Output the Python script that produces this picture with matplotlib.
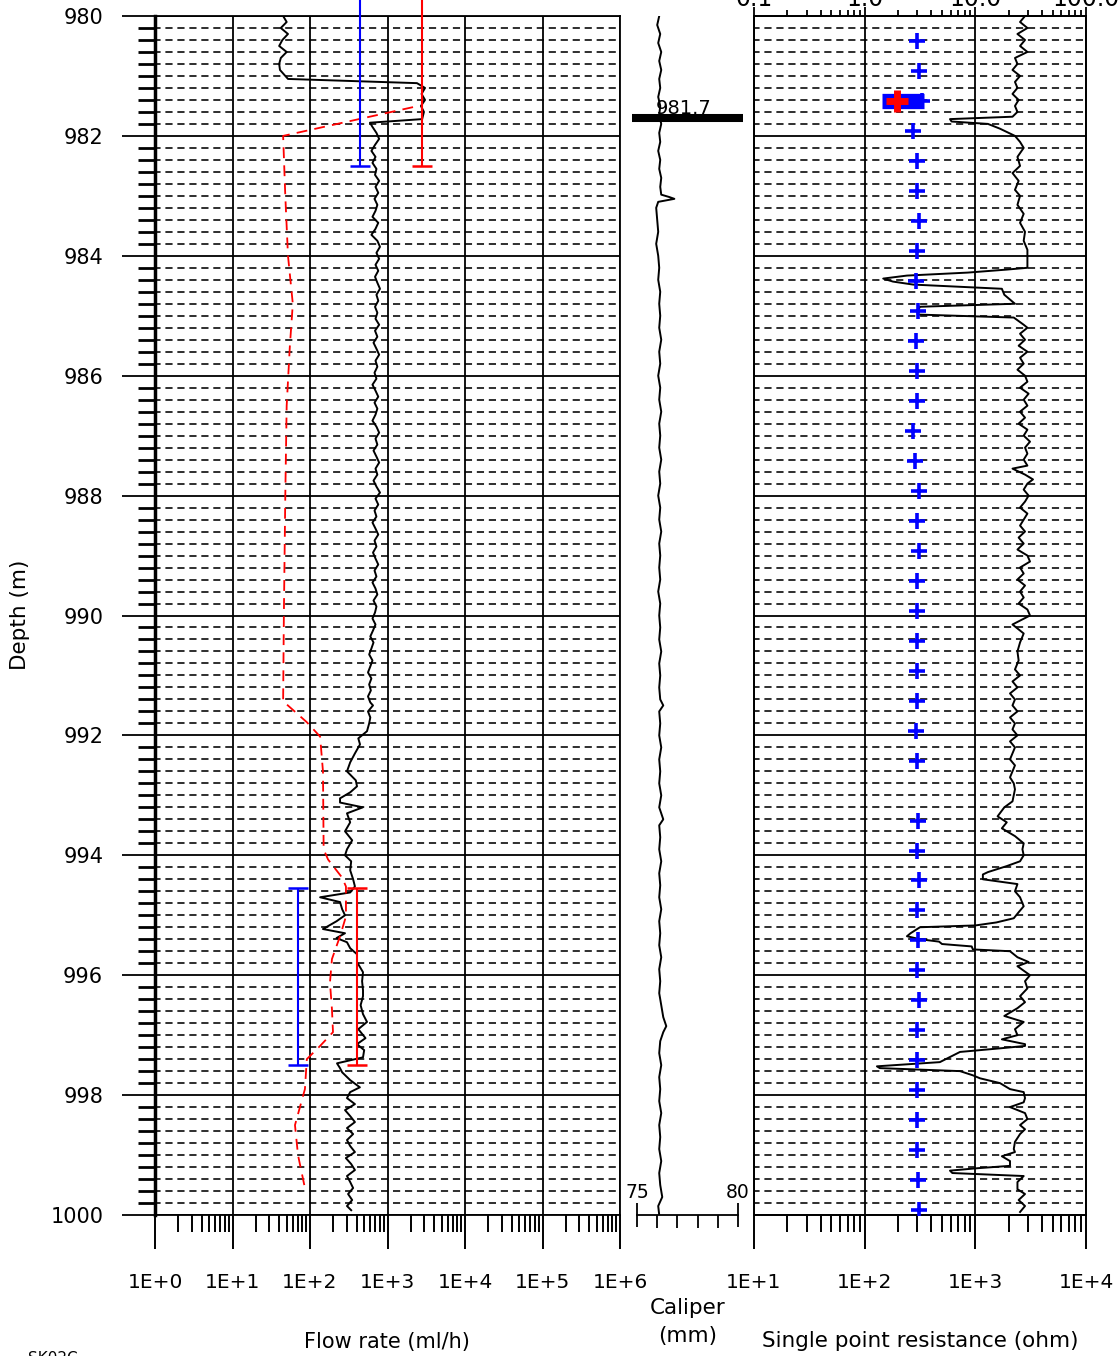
import numpy as np
import matplotlib.pyplot as plt
import matplotlib.transforms as mtransforms
from matplotlib.ticker import FixedLocator, LogLocator, MultipleLocator, FuncFormatter, NullFormatter

plt.rcParams['font.family'] = ['DejaVu Sans']

# ---- datos ----
depth_ticks = [980, 982, 984, 986, 988, 990, 992, 994, 996, 998, 1000]
flow_ticks = [1e0, 1e1, 1e2, 1e3, 1e4, 1e5, 1e6]
res_ticks = [1e1, 1e2, 1e3, 1e4]
top_ticks = [0.1, 1.0, 10.0, 100.0]
cal_major = [75, 80]
cal_minor = [76, 77, 78, 79]

# caudal medido (profundidad m, ml/h)
flow_curve = [
    (980.00, 45), (980.10, 50), (980.20, 42), (980.30, 52), (980.40, 44), (980.50, 40),
    (980.60, 50), (980.70, 42), (980.80, 40), (980.90, 41), (981.00, 48), (981.05, 52),
    (981.12, 2400), (981.20, 3050), (981.30, 2750), (981.40, 3050), (981.50, 2700),
    (981.60, 2950), (981.72, 2800), (981.78, 594), (981.85, 640), (981.95, 720),
    (982.05, 780), (982.15, 690), (982.25, 620), (982.35, 700), (982.45, 640), (982.55, 720),
    (982.65, 690), (982.75, 780), (982.85, 700), (982.95, 760), (983.05, 680), (983.15, 740),
    (983.25, 700), (983.35, 640), (983.45, 760), (983.55, 700), (983.65, 620), (983.75, 740),
    (983.85, 800), (983.95, 720), (984.05, 780), (984.15, 700), (984.25, 760), (984.35, 690),
    (984.45, 740), (984.55, 800), (984.65, 720), (984.75, 760), (984.85, 690), (984.95, 740),
    (985.05, 700), (985.15, 780), (985.25, 690), (985.35, 740), (985.45, 660), (985.55, 720),
    (985.65, 780), (985.75, 700), (985.85, 740), (985.95, 680), (986.05, 720), (986.15, 640),
    (986.25, 700), (986.35, 760), (986.45, 680), (986.55, 740), (986.65, 700), (986.75, 640),
    (986.85, 720), (986.95, 780), (987.05, 700), (987.15, 740), (987.25, 660), (987.35, 720),
    (987.45, 780), (987.55, 700), (987.65, 740), (987.75, 660), (987.85, 720), (987.95, 800),
    (988.05, 700), (988.15, 760), (988.25, 680), (988.35, 720), (988.45, 640), (988.55, 700),
    (988.65, 760), (988.75, 680), (988.85, 720), (988.95, 650), (989.05, 700), (989.15, 760),
    (989.25, 680), (989.35, 720), (989.45, 640), (989.55, 700), (989.65, 740), (989.75, 660),
    (989.85, 720), (989.95, 690), (990.05, 640), (990.15, 700), (990.25, 650), (990.35, 600),
    (990.45, 660), (990.55, 620), (990.65, 580), (990.75, 640), (990.85, 600), (990.95, 560),
    (991.05, 620), (991.15, 580), (991.25, 610), (991.35, 560), (991.45, 600), (991.50, 650),
    (991.60, 560), (991.70, 600), (991.80, 580), (991.93, 544), (992.05, 420), (992.15, 442),
    (992.30, 380), (992.45, 330), (992.60, 300), (992.75, 390), (992.85, 404), (992.95, 330),
    (993.05, 244), (993.12, 244), (993.20, 480), (993.30, 300), (993.45, 330), (993.60, 283),
    (993.75, 350), (993.90, 300), (994.00, 283), (994.10, 340), (994.25, 330), (994.40, 360),
    (994.52, 380), (994.62, 330), (994.70, 135), (994.78, 244), (994.90, 260), (995.00, 283),
    (995.10, 220), (995.23, 147), (995.30, 283), (995.38, 220), (995.45, 300), (995.55, 330),
    (995.65, 404), (995.78, 404), (995.95, 483), (996.10, 470), (996.25, 483), (996.35, 483),
    (996.50, 450), (996.65, 483), (996.78, 544), (996.90, 420), (997.05, 520), (997.15, 404),
    (997.25, 500), (997.37, 483), (997.47, 223), (997.55, 244), (997.62, 260), (997.75, 330),
    (997.87, 440), (997.95, 330), (998.05, 300), (998.15, 380), (998.25, 283), (998.35, 330),
    (998.45, 380), (998.55, 300), (998.65, 360), (998.75, 300), (998.85, 330), (998.95, 380),
    (999.05, 290), (999.15, 340), (999.25, 380), (999.35, 300), (999.45, 330), (999.55, 360),
    (999.65, 310), (999.75, 350), (999.85, 300), (999.92, 340),
]

# caudal modelado (linea roja discontinua)
flow_model = [
    (981.52, 2135), (982.00, 45), (983.00, 48), (984.00, 52), (984.80, 60), (985.50, 55),
    (986.50, 50), (988.00, 48), (990.00, 46), (991.43, 45), (991.78, 91), (992.02, 135),
    (992.60, 147), (993.90, 150), (994.07, 171), (994.37, 259), (994.52, 291), (995.02, 291),
    (995.35, 244), (995.73, 192), (996.12, 181), (996.57, 192), (996.95, 198), (997.18, 135),
    (997.40, 91), (997.90, 86), (998.50, 64), (999.00, 70), (999.55, 86),
]

# intervalos de ensayo
bracket_top = [979.5, 994.55]
bracket_bot = [982.5, 997.5]
bracket_blue = [442, 70]
bracket_red = [2786, 410]

# caliper (profundidad m, mm)
caliper = [
    (980.00, 76.10), (980.15, 76.00), (980.30, 76.15), (980.45, 76.05), (980.60, 76.20),
    (980.75, 76.10), (980.90, 76.20), (981.05, 76.10), (981.20, 76.15), (981.35, 76.05),
    (981.50, 76.15), (981.65, 76.10), (981.80, 76.20), (981.95, 76.10), (982.10, 76.15),
    (982.25, 76.05), (982.40, 76.15), (982.55, 76.10), (982.70, 76.20), (982.85, 76.15),
    (982.98, 76.20), (983.02, 76.60), (983.05, 76.85), (983.10, 76.05), (983.20, 75.95),
    (983.40, 76.00), (983.60, 76.05), (983.80, 75.95), (984.00, 76.05), (984.20, 76.10),
    (984.40, 76.05), (984.60, 76.15), (984.80, 76.10), (985.00, 76.15), (985.20, 76.10),
    (985.40, 76.20), (985.60, 76.10), (985.80, 76.15), (986.00, 76.05), (986.20, 76.15),
    (986.40, 76.10), (986.60, 76.20), (986.80, 76.10), (987.00, 76.15), (987.20, 76.10),
    (987.40, 76.20), (987.60, 76.10), (987.80, 76.15), (988.00, 76.05), (988.20, 76.15),
    (988.40, 76.10), (988.60, 76.20), (988.80, 76.10), (989.00, 76.15), (989.20, 76.10),
    (989.40, 76.15), (989.60, 76.05), (989.80, 76.15), (990.00, 76.10), (990.20, 76.15),
    (990.40, 76.10), (990.60, 76.20), (990.80, 76.10), (991.00, 76.15), (991.20, 76.10),
    (991.40, 76.15), (991.50, 76.30), (991.60, 76.10), (991.80, 76.15), (992.00, 76.10),
    (992.20, 76.20), (992.40, 76.10), (992.60, 76.15), (992.80, 76.10), (993.00, 76.20),
    (993.20, 76.10), (993.40, 76.30), (993.50, 76.10), (993.70, 76.15), (993.90, 76.10),
    (994.10, 76.20), (994.30, 76.10), (994.50, 76.15), (994.70, 76.10), (994.90, 76.20),
    (995.10, 76.10), (995.30, 76.15), (995.50, 76.10), (995.70, 76.20), (995.90, 76.10),
    (996.10, 76.15), (996.30, 76.10), (996.50, 76.20), (996.70, 76.30), (996.85, 76.45),
    (996.95, 76.30), (997.10, 76.15), (997.30, 76.10), (997.50, 76.20), (997.70, 76.10),
    (997.90, 76.15), (998.10, 76.10), (998.30, 76.20), (998.50, 76.10), (998.70, 76.15),
    (998.90, 76.10), (999.10, 76.20), (999.30, 76.10), (999.50, 76.15), (999.70, 76.25),
    (999.85, 76.05), (1000.00, 76.10),
]
marker_depth = 981.7

# resistencia puntual (profundidad m, ohm)
resistance = [
    (980.00, 2812), (980.10, 2535), (980.20, 2955), (980.30, 2402), (980.40, 2812), (980.50, 2535),
    (980.60, 2955), (980.70, 2281), (980.80, 2402), (980.90, 2167), (981.00, 2535), (981.10, 2281),
    (981.20, 2402), (981.30, 2167), (981.40, 2462), (981.50, 2281), (981.60, 2402), (981.68, 2167),
    (981.72, 590), (981.76, 610), (981.80, 1300), (981.88, 1671), (982.00, 2281), (982.10, 2535),
    (982.20, 2735), (982.35, 2402), (982.50, 2535), (982.62, 2167), (982.75, 2462), (982.90, 2281),
    (983.00, 2535), (983.15, 2402), (983.30, 2735), (983.45, 2535), (983.60, 2812), (983.75, 2735),
    (983.90, 2955), (984.05, 2955), (984.20, 2955), (984.23, 1923), (984.28, 856), (984.33, 241),
    (984.38, 147), (984.43, 180), (984.48, 274), (984.55, 1737), (984.65, 1828), (984.73, 2057),
    (984.80, 2281), (984.85, 316), (984.92, 301), (984.98, 301), (985.03, 2225), (985.15, 2735),
    (985.20, 2955), (985.30, 2535), (985.40, 2812), (985.50, 2462), (985.60, 2955), (985.70, 2535),
    (985.80, 2735), (985.90, 2402), (986.00, 2812), (986.10, 2955), (986.20, 2535), (986.30, 3030),
    (986.40, 2735), (986.50, 2955), (986.60, 2535), (986.70, 2812), (986.80, 2462), (986.90, 2955),
    (987.00, 2735), (987.10, 3119), (987.20, 2812), (987.30, 2955), (987.40, 2735), (987.50, 2955),
    (987.55, 2167), (987.65, 2812), (987.73, 3319), (987.80, 2955), (987.90, 2735), (988.00, 3030),
    (988.10, 2812), (988.20, 2535), (988.30, 2955), (988.40, 2735), (988.50, 2535), (988.60, 2812),
    (988.70, 2462), (988.80, 2735), (988.90, 2402), (989.00, 2955), (989.10, 3119), (989.20, 2535),
    (989.30, 2735), (989.40, 2402), (989.50, 2812), (989.60, 2535), (989.70, 2735), (989.80, 2462),
    (989.90, 2955), (990.00, 3119), (990.15, 2167), (990.30, 2735), (990.45, 2535), (990.60, 2402),
    (990.75, 2462), (990.90, 2281), (991.00, 2535), (991.10, 2167), (991.20, 2402), (991.30, 2057),
    (991.40, 2281), (991.50, 2167), (991.60, 2402), (991.70, 2057), (991.80, 2281), (991.90, 2167),
    (992.00, 2402), (992.10, 2057), (992.20, 2281), (992.30, 2167), (992.40, 2057), (992.50, 2281),
    (992.60, 2167), (992.70, 2057), (992.80, 2225), (992.90, 2281), (993.00, 2225), (993.10, 2167),
    (993.20, 1828), (993.35, 1589), (993.45, 1923), (993.55, 1737), (993.68, 2281), (993.80, 2735),
    (993.90, 2665), (994.00, 2735), (994.10, 2535), (994.18, 1923), (994.28, 1300), (994.32, 1170),
    (994.40, 1170), (994.48, 2402), (994.60, 2281), (994.70, 2535), (994.85, 2735), (994.95, 2462),
    (995.05, 2225), (995.12, 1548), (995.17, 1000), (995.20, 316), (995.30, 260), (995.35, 241),
    (995.40, 316), (995.44, 470), (995.48, 500), (995.52, 927), (995.57, 950), (995.60, 2057),
    (995.70, 2402), (995.78, 3030), (995.85, 2402), (996.00, 3119), (996.10, 2812), (996.22, 2955),
    (996.35, 2535), (996.45, 2812), (996.55, 2402), (996.68, 1828), (996.78, 2735), (996.90, 2281),
    (997.00, 2402), (997.07, 1737), (997.15, 2812), (997.18, 2812), (997.22, 1671), (997.28, 727),
    (997.45, 478), (997.52, 129), (997.55, 137), (997.60, 727), (997.67, 950), (997.72, 1102),
    (997.80, 1671), (997.90, 2057), (997.95, 2735), (998.05, 2812), (998.12, 2735), (998.20, 2057),
    (998.30, 2812), (998.40, 2955), (998.50, 2535), (998.57, 2812), (998.65, 2535), (998.78, 2281),
    (998.90, 2225), (998.95, 2281), (999.02, 1737), (999.10, 2057), (999.18, 2057), (999.22, 1040),
    (999.26, 590), (999.30, 620), (999.35, 2735), (999.45, 2402), (999.57, 2402), (999.65, 2812),
    (999.75, 2462), (999.85, 2812), (999.95, 2535),
]

# transmisividad (eje superior)
trans_depth = [980.42, 980.92, 981.42, 981.92, 982.42, 982.92, 983.42, 983.92, 984.42, 984.92,
               985.42, 985.92, 986.42, 986.92, 987.42, 987.92, 988.42, 988.92, 989.42, 989.92,
               990.42, 990.92, 991.42, 991.92, 992.42, 993.42, 993.92, 994.42, 994.92, 995.42,
               995.92, 996.42, 996.92, 997.42, 997.92, 998.42, 998.92, 999.42, 999.92]
trans_val = [2.97, 3.09, 3.29, 2.74, 2.97, 2.97, 3.09, 2.97, 2.91, 3.03,
             2.91, 2.97, 2.97, 2.74, 2.85, 3.09, 2.97, 3.09, 2.97, 2.97,
             2.97, 2.97, 2.97, 2.91, 2.97, 3.03, 2.97, 3.09, 2.97, 3.03,
             2.97, 3.09, 2.97, 2.97, 2.97, 2.97, 2.97, 3.03, 3.09]
trans_bar = (981.42, 1.42, 3.45)
trans_red = (981.42, 1.96)

# ---- figura ----
W, H = 1120, 1356
TOP, BOT = 16, 1215


def fx(px):
    return px / W


def fy(py):
    return 1 - py / H


def depth_grid(ax):
    ax.set_ylim(1000, 980)
    ax.yaxis.set_major_locator(FixedLocator(depth_ticks))
    ax.yaxis.set_minor_locator(MultipleLocator(0.2))
    ax.grid(which='major', axis='both', color='k', lw=1.3)
    ax.grid(which='minor', axis='y', color='k', lw=1.15, ls=(1, (4.5, 3)))
    ax.set_axisbelow(True)
    for s in ax.spines.values():
        s.set_linewidth(1.3)


def log_bottom(ax, ticks):
    ax.set_xscale('log')
    ax.set_xlim(ticks[0], ticks[-1])
    ax.xaxis.set_major_locator(FixedLocator(ticks))
    ax.xaxis.set_minor_locator(LogLocator(subs=np.arange(2, 10), numticks=50))
    ax.xaxis.set_major_formatter(FuncFormatter(lambda v, p: f'1E+{int(round(np.log10(v)))}'))
    ax.xaxis.set_minor_formatter(NullFormatter())
    ax.tick_params(axis='x', which='major', length=24.5, width=1.4, pad=17, labelsize=14.5)
    ax.tick_params(axis='x', which='minor', length=12.2, width=1.4)


fig = plt.figure(figsize=(W / 100, H / 100), dpi=100)
hh = (BOT - TOP) / H
ax_f = fig.add_axes([fx(155), fy(BOT), fx(620 - 155), hh])
ax_c = fig.add_axes([fx(637), fy(BOT), fx(101), hh])
ax_r = fig.add_axes([fx(754), fy(BOT), fx(332), hh])

# panel de caudal
log_bottom(ax_f, flow_ticks)
depth_grid(ax_f)
ax_f.spines['left'].set_linewidth(2.5)
ax_f.yaxis.set_major_formatter(FuncFormatter(lambda v, p: f'{v:.0f}'))
ax_f.tick_params(axis='y', which='major', length=23.8, width=1.3, pad=13.5, labelsize=15)
ax_f.tick_params(axis='y', which='minor', length=12.2, width=2.0)

d, q = zip(*flow_curve)
ax_f.plot(q, d, color='k', lw=1.4, zorder=3)
d, q = zip(*flow_model)
ax_f.plot(q, d, color='red', lw=1.3, ls=(0, (6, 4)), zorder=3)
for lo, hi, qb, qr in zip(bracket_top, bracket_bot, bracket_blue, bracket_red):
    for qq, col in ((qb, 'blue'), (qr, 'red')):
        ax_f.vlines(qq, lo, hi, color=col, lw=1.5, clip_on=False, zorder=4)
        ax_f.plot([qq, qq], [lo, hi], ls='none', marker='_', ms=14, mew=1.8,
                  color=col, clip_on=False, zorder=4)

# panel de caliper
ax_c.set_xlim(cal_major[0], cal_major[-1])
ax_c.set_ylim(1000, 980)
ax_c.patch.set_visible(False)
for s in ('left', 'right', 'top'):
    ax_c.spines[s].set_visible(False)
ax_c.spines['bottom'].set_linewidth(1.3)
ax_c.set_yticks([])
ax_c.xaxis.set_major_locator(FixedLocator(cal_major))
ax_c.xaxis.set_minor_locator(FixedLocator(cal_minor))
ax_c.tick_params(axis='x', which='major', direction='inout', length=17, width=1.3, labelbottom=False)
ax_c.tick_params(axis='x', which='minor', direction='out', length=9.4, width=1.3)
trans = mtransforms.blended_transform_factory(ax_c.transData, ax_c.transAxes)
for v in cal_major:
    ax_c.text(v, 0.019, f'{v}', transform=trans, ha='center', va='center', fontsize=13.5)
d, c = zip(*caliper)
ax_c.plot(c, d, color='k', lw=1.4, zorder=3)
ax_c.axhline(marker_depth, xmin=-0.05, xmax=1.05, color='k', lw=5.8, clip_on=False,
             solid_capstyle='butt', zorder=4)
trans2 = mtransforms.blended_transform_factory(ax_c.transAxes, ax_c.transData)
ax_c.annotate(f'{marker_depth}', xy=(0.465, marker_depth), xycoords=trans2, xytext=(0, 3),
              textcoords='offset points', ha='center', va='baseline', fontsize=14, zorder=5)

# panel de resistencia
log_bottom(ax_r, res_ticks)
depth_grid(ax_r)
ax_r.tick_params(axis='y', which='both', left=False, labelleft=False)
d, r = zip(*resistance)
ax_r.plot(r, d, color='k', lw=1.4, zorder=3)

ax_t = ax_r.twiny()
ax_t.set_xscale('log')
ax_t.set_xlim(top_ticks[0], top_ticks[-1])
ax_t.xaxis.set_major_locator(FixedLocator(top_ticks))
ax_t.xaxis.set_minor_locator(LogLocator(subs=np.arange(2, 10), numticks=50))
ax_t.xaxis.set_major_formatter(FuncFormatter(lambda v, p: f'{v:.1f}'))
ax_t.xaxis.set_minor_formatter(NullFormatter())
ax_t.tick_params(axis='x', which='major', length=6.5, width=1.3, pad=-3, labelsize=17)
ax_t.tick_params(axis='x', which='minor', length=4.5, width=1.3)
for s in ax_t.spines.values():
    s.set_linewidth(1.3)
ax_t.hlines(trans_bar[0], trans_bar[1], trans_bar[2], color='blue', lw=11, zorder=5)
ax_t.plot(trans_val, trans_depth, ls='none', marker='+', ms=12, mew=2.6, color='blue', zorder=5)
ax_t.plot([trans_red[1]], [trans_red[0]], ls='none', marker='+', ms=16, mew=5, color='red', zorder=6)
ax_t.set_ylim(1000, 980)

# textos
fig.text(fx(20), fy(615), 'Depth (m)', rotation=90, ha='center', va='center', fontsize=15.5)
fig.text(fx(387), fy(1342), 'Flow rate (ml/h)', ha='center', va='center', fontsize=15)
fig.text(fx(688), fy(1308), 'Caliper', ha='center', va='center', fontsize=15.5)
fig.text(fx(688), fy(1336), '(mm)', ha='center', va='center', fontsize=15.5)
fig.text(fx(920), fy(1341), 'Single point resistance (ohm)', ha='center', va='center', fontsize=15.5)
fig.text(fx(28), fy(1351), 'SK02C', ha='left', va='top', fontsize=11)

fig.savefig('out.png', dpi=100)
